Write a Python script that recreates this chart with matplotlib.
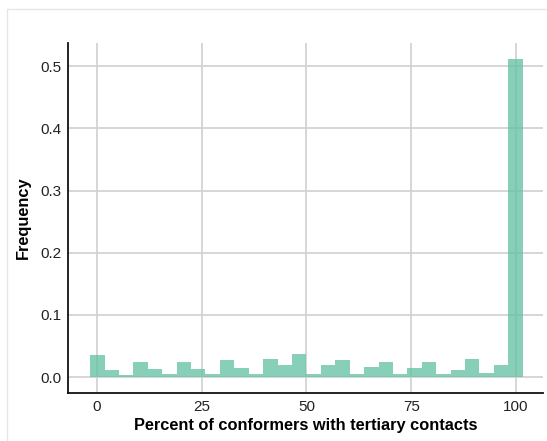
import numpy as np
import matplotlib.pyplot as plt
from matplotlib.patches import Rectangle

# share of conformers per bin (30 bins over 0-100 %)
freq = [0.035, 0.012, 0.004, 0.024, 0.013, 0.005, 0.025, 0.013, 0.005, 0.027,
        0.015, 0.005, 0.029, 0.020, 0.037, 0.005, 0.020, 0.028, 0.005, 0.017,
        0.024, 0.005, 0.014, 0.024, 0.005, 0.011, 0.030, 0.006, 0.019, 0.512]
xticks = [0, 25, 50, 75, 100]
yticks = [0.0, 0.1, 0.2, 0.3, 0.4, 0.5]

plt.rcParams['font.family'] = ['Liberation Sans', 'DejaVu Sans']

edges = np.linspace(-1.6, 101.6, len(freq) + 1)
centers = (edges[:-1] + edges[1:]) / 2
width = edges[1] - edges[0]

fig = plt.figure(figsize=(5.47, 4.41), dpi=100)
ax = fig.add_axes([0.1249, 0.1095, 0.8683, 0.7923])

ax.bar(centers, freq, width=width, color='#66c2a5', alpha=0.78, linewidth=0, zorder=2)

ax.set_xlim(-6.8, 106.5)
ax.set_ylim(-0.025, 0.537)
ax.set_xticks(xticks)
ax.set_yticks(yticks)
ax.set_xticklabels([str(t) for t in xticks])
ax.set_yticklabels([f'{t:.1f}' for t in yticks])
ax.tick_params(length=0, labelsize=11, pad=5, colors='#222222')
ax.grid(True, color='#d0d0d0', linewidth=1.2, zorder=0)
ax.set_axisbelow(True)
for s in ['top', 'right']:
    ax.spines[s].set_visible(False)
for s in ['left', 'bottom']:
    ax.spines[s].set_color('#111111')
    ax.spines[s].set_linewidth(1.3)

ax.set_xlabel('Percent of conformers with tertiary contacts', fontsize=11.8, fontweight='bold', labelpad=3)
ax.set_ylabel('Frequency', fontsize=11.8, fontweight='bold', labelpad=7)

# thin frame around the panel
fig.patches.append(Rectangle((7 / 547, -0.1), 1.2, 1 - 9 / 441 + 0.1, transform=fig.transFigure,
                             fill=False, edgecolor='#e6e6e6', linewidth=1, zorder=0))

fig.savefig('out.png', dpi=100)
